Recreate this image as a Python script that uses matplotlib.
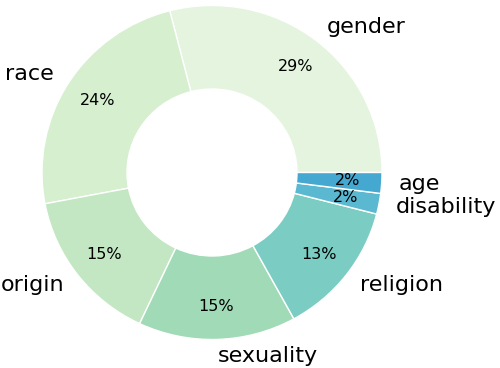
import matplotlib
matplotlib.use('Agg')
import matplotlib.pyplot as plt

labels = ['gender', 'race', 'origin', 'sexuality', 'religion', 'disability', 'age']
shares = [29, 24, 15, 15, 13, 2, 2]
colors = ['#e4f4de', '#d5efcf', '#c2e7c2', '#a0dab7', '#7bcdc4', '#5bb8d1', '#45a8d0']

fig = plt.figure(figsize=(5, 3.68), dpi=100)
ax = fig.add_axes([0, 0, 1, 1])

wedges, texts, autotexts = ax.pie(
    shares, labels=labels, colors=colors, startangle=0,
    autopct='%1.0f%%', pctdistance=0.8, labeldistance=1.1,
    wedgeprops=dict(width=0.5, edgecolor='white', linewidth=1),
    textprops=dict(fontsize=16),
)
for t in autotexts:
    t.set_fontsize(11.5)

# slightly squashed vertically, like the reference
ax.set_aspect('auto')
ax.set_xlim(-212 / 170, 288 / 170)
ax.set_ylim(-195.5 / 167, 172.5 / 167)
ax.axis('off')

fig.savefig('out.png', dpi=100)
